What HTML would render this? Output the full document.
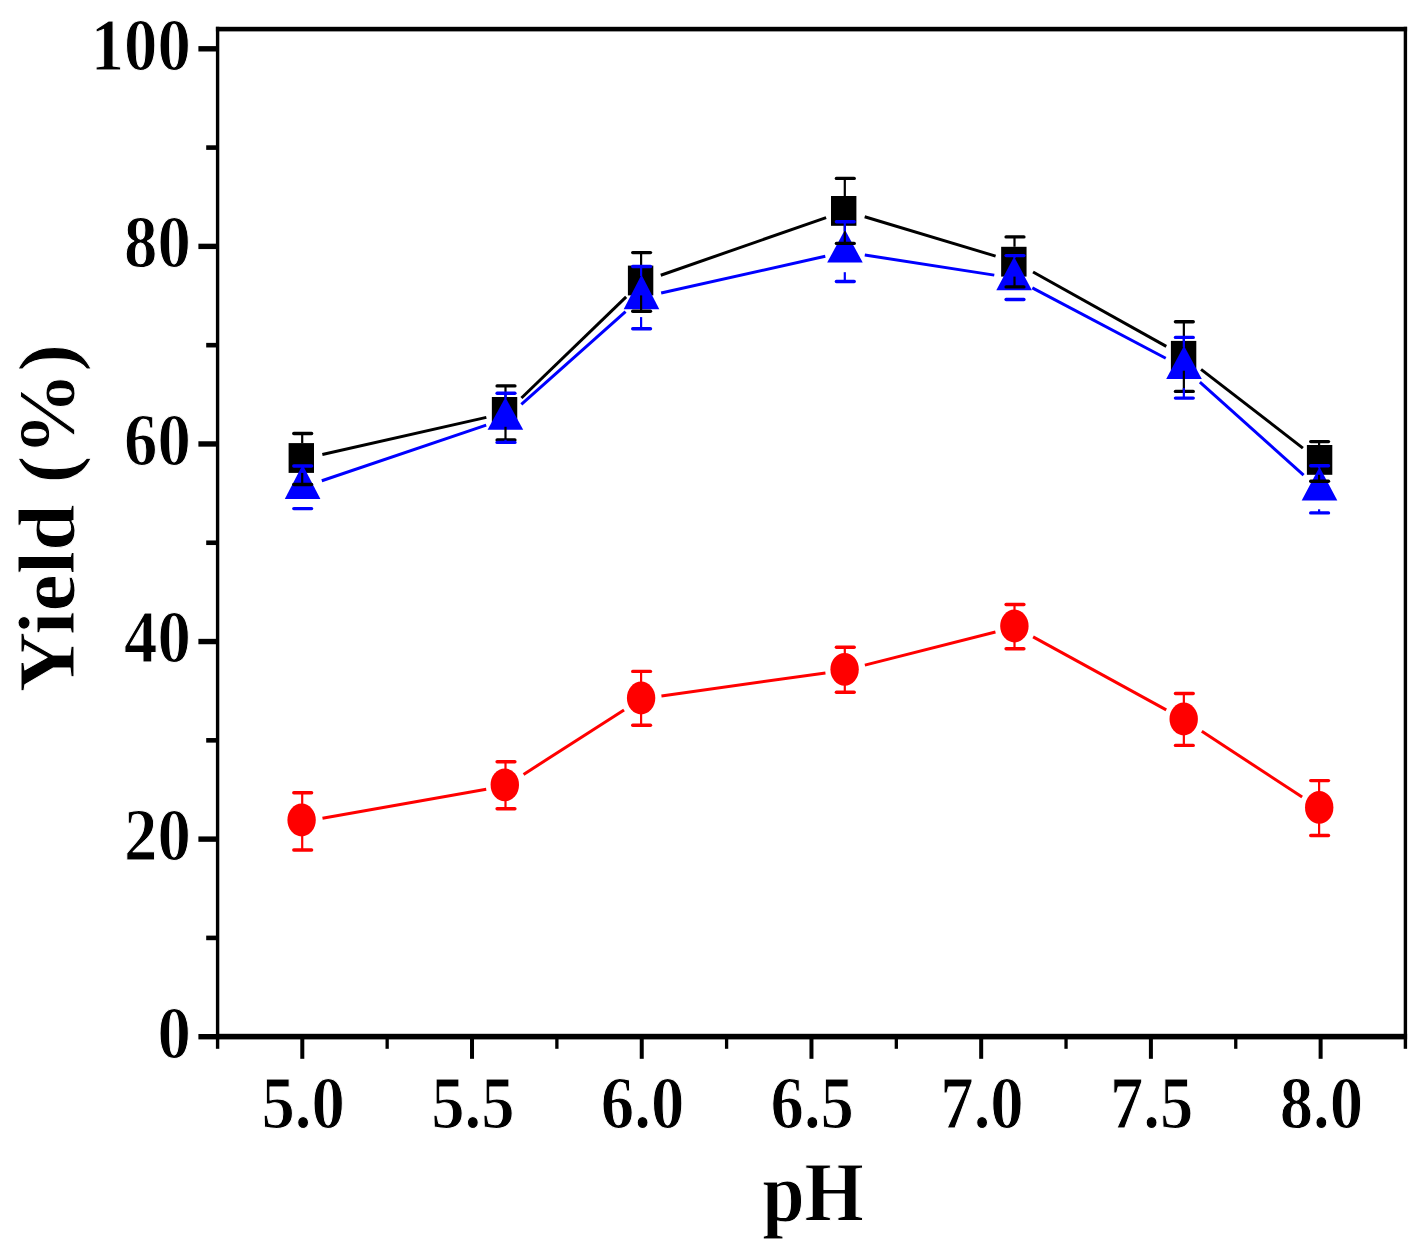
<!DOCTYPE html>
<html lang="en">
<head>
<meta charset="utf-8">
<title>Yield vs pH</title>
<style>
html,body{margin:0;padding:0;background:#fff;}
body{width:1418px;height:1249px;overflow:hidden;}
svg{display:block;}
text{font-family:"Liberation Serif","Times New Roman",Times,serif;font-weight:bold;fill:#000;stroke:#fff;stroke-width:1px;stroke-linejoin:round;}
</style>
</head>
<body>
<svg width="1418" height="1249" viewBox="0 0 1418 1249">
<rect width="1418" height="1249" fill="#fff"/>

<!-- series lines and symbols -->
<g stroke="#000" stroke-width="3" fill="none"><line x1="322.34" y1="454.55" x2="486.36" y2="417.35"/><line x1="521.45" y1="397.98" x2="626.15" y2="296.82"/><line x1="660.77" y1="275.22" x2="826.13" y2="217.58"/><line x1="864.68" y1="216.72" x2="995.62" y2="256.08"/><line x1="1033.06" y1="271.99" x2="1166.29" y2="346.41"/><line x1="1201.06" y1="369.41" x2="1302.89" y2="448.09"/></g>
<g fill="#000"><rect x="288.6" y="443.1" width="25.4" height="29.8"/><rect x="491.85" y="397" width="25.4" height="29.8"/><rect x="627.9" y="265.6" width="25.4" height="29.8"/><rect x="831" y="196" width="25.4" height="29.8"/><rect x="1001.15" y="246.8" width="25.4" height="29.8"/><rect x="1170.9" y="340.9" width="25.4" height="29.8"/><rect x="1306.9" y="445" width="25.4" height="29.8"/></g>
<g stroke="#f00" stroke-width="3" fill="none"><line x1="322.48" y1="818.24" x2="486.22" y2="789.16"/><line x1="523.56" y1="774.39" x2="624.04" y2="709.96"/><line x1="661.46" y1="695.91" x2="825.44" y2="672.89"/><line x1="864.85" y1="665.14" x2="995.45" y2="631.96"/><line x1="1033.12" y1="636.94" x2="1166.23" y2="709.91"/><line x1="1201.82" y1="731.29" x2="1302.13" y2="797.01"/></g>
<g fill="#f00"><rect x="292.1" y="791" width="21.2" height="3.4" rx="1.7"/><rect x="292.1" y="848.3" width="21.2" height="3.4" rx="1.7"/><rect x="301.1" y="792.7" width="2.2" height="57.3"/><ellipse cx="301.6" cy="820" rx="14.2" ry="16.4"/><rect x="495.4" y="760" width="21.2" height="3.4" rx="1.7"/><rect x="495.4" y="807.1" width="21.2" height="3.4" rx="1.7"/><rect x="504.4" y="761.7" width="2.2" height="47.1"/><ellipse cx="504.8" cy="784.9" rx="14.2" ry="16.4"/><rect x="631" y="669.7" width="21.2" height="3.4" rx="1.7"/><rect x="631" y="723.5" width="21.2" height="3.4" rx="1.7"/><rect x="640" y="671.4" width="2.2" height="53.8"/><ellipse cx="641.1" cy="698" rx="14.2" ry="16.4"/><rect x="834.7" y="645.5" width="21.2" height="3.4" rx="1.7"/><rect x="834.7" y="690.5" width="21.2" height="3.4" rx="1.7"/><rect x="843.7" y="647.2" width="2.2" height="45"/><ellipse cx="844.6" cy="669.3" rx="14.2" ry="16.4"/><rect x="1004.4" y="602.8" width="21.2" height="3.4" rx="1.7"/><rect x="1004.4" y="647" width="21.2" height="3.4" rx="1.7"/><rect x="1013.4" y="604.5" width="2.2" height="44.2"/><ellipse cx="1014.4" cy="626" rx="14.2" ry="16.4"/><rect x="1173.75" y="691.8" width="21.2" height="3.4" rx="1.7"/><rect x="1173.75" y="743.7" width="21.2" height="3.4" rx="1.7"/><rect x="1182.75" y="693.5" width="2.2" height="51.9"/><ellipse cx="1183.7" cy="719" rx="14.2" ry="16.4"/><rect x="1309" y="778.9" width="21.2" height="3.4" rx="1.7"/><rect x="1309" y="833.8" width="21.2" height="3.4" rx="1.7"/><rect x="1318" y="780.6" width="2.2" height="54.9"/><ellipse cx="1319.2" cy="807.4" rx="14.2" ry="16.4"/></g>
<g stroke="#00f" stroke-width="3" fill="none"><line x1="321.82" y1="480.74" x2="486.18" y2="425.11"/><line x1="521.34" y1="404.41" x2="625.56" y2="311.59"/><line x1="661.15" y1="293.01" x2="825.3" y2="256.29"/><line x1="864.78" y1="254.98" x2="994.27" y2="275.12"/><line x1="1032.34" y1="287.83" x2="1165.76" y2="358.27"/><line x1="1199.9" y1="382.15" x2="1303.6" y2="475.05"/></g>
<g fill="#00f"><polygon points="302.6,464.8 320.4,498.9 284.8,498.9"/><polygon points="505.4,397.3 523.2,429.7 487.6,429.7"/><polygon points="641.5,274.7 659.3,309.3 623.7,309.3"/><polygon points="844.95,229.8 862.75,262.6 827.15,262.6"/><polygon points="1014.1,256.7 1031.9,290.2 996.3,290.2"/><polygon points="1184,345.7 1201.8,378.9 1166.2,378.9"/><polygon points="1319.5,466.9 1337.3,500.4 1301.7,500.4"/></g>
<g fill="#000"><rect x="292.1" y="431.8" width="21.2" height="3.4" rx="1.7"/><rect x="292.1" y="482.8" width="21.2" height="3.4" rx="1.7"/><rect x="301.1" y="433.5" width="2.2" height="9.6"/><rect x="301.1" y="472.9" width="2.2" height="11.6"/><rect x="495.4" y="384.2" width="21.2" height="3.4" rx="1.7"/><rect x="495.4" y="438.2" width="21.2" height="3.4" rx="1.7"/><rect x="504.4" y="385.9" width="2.2" height="11.1"/><rect x="504.4" y="426.8" width="2.2" height="13.1"/><rect x="631" y="250.9" width="21.2" height="3.4" rx="1.7"/><rect x="631" y="309.5" width="21.2" height="3.4" rx="1.7"/><rect x="640" y="252.6" width="2.2" height="13"/><rect x="640" y="295.4" width="2.2" height="15.8"/><rect x="834.7" y="176.7" width="21.2" height="3.4" rx="1.7"/><rect x="834.7" y="241.7" width="21.2" height="3.4" rx="1.7"/><rect x="843.7" y="178.4" width="2.2" height="17.6"/><rect x="843.7" y="225.8" width="2.2" height="17.6"/><rect x="1004.4" y="235.2" width="21.2" height="3.4" rx="1.7"/><rect x="1004.4" y="285.2" width="21.2" height="3.4" rx="1.7"/><rect x="1013.4" y="236.9" width="2.2" height="9.9"/><rect x="1013.4" y="276.6" width="2.2" height="10.3"/><rect x="1173.75" y="320" width="21.2" height="3.4" rx="1.7"/><rect x="1173.75" y="389.7" width="21.2" height="3.4" rx="1.7"/><rect x="1182.75" y="321.7" width="2.2" height="19.2"/><rect x="1182.75" y="370.7" width="2.2" height="20.7"/><rect x="1309" y="439.9" width="21.2" height="3.4" rx="1.7"/><rect x="1309" y="479.5" width="21.2" height="3.4" rx="1.7"/><rect x="1318" y="441.6" width="2.2" height="3.4"/><rect x="1318" y="474.8" width="2.2" height="6.4"/></g>
<g fill="#00f"><rect x="292.1" y="464.3" width="21.2" height="3.4" rx="1.7"/><rect x="292.1" y="506.9" width="21.2" height="3.4" rx="1.7"/><rect x="301.1" y="466" width="2.2" height="0.3"/><rect x="301.1" y="507.2" width="2.2" height="1.4"/><rect x="495.4" y="391.6" width="21.2" height="3.4" rx="1.7"/><rect x="495.4" y="440.7" width="21.2" height="3.4" rx="1.7"/><rect x="504.4" y="393.3" width="2.2" height="5.5"/><rect x="504.4" y="439.7" width="2.2" height="2.7"/><rect x="631" y="264.8" width="21.2" height="3.4" rx="1.7"/><rect x="631" y="327" width="21.2" height="3.4" rx="1.7"/><rect x="640" y="266.5" width="2.2" height="9.7"/><rect x="640" y="317.1" width="2.2" height="11.6"/><rect x="834.7" y="220" width="21.2" height="3.4" rx="1.7"/><rect x="834.7" y="279.8" width="21.2" height="3.4" rx="1.7"/><rect x="843.7" y="221.7" width="2.2" height="9.6"/><rect x="843.7" y="272.2" width="2.2" height="9.3"/><rect x="1004.4" y="253.9" width="21.2" height="3.4" rx="1.7"/><rect x="1004.4" y="297.8" width="21.2" height="3.4" rx="1.7"/><rect x="1013.4" y="255.6" width="2.2" height="2.6"/><rect x="1013.4" y="299.1" width="2.2" height="0.4"/><rect x="1173.75" y="335.7" width="21.2" height="3.4" rx="1.7"/><rect x="1173.75" y="396.4" width="21.2" height="3.4" rx="1.7"/><rect x="1182.75" y="337.4" width="2.2" height="9.8"/><rect x="1182.75" y="388.1" width="2.2" height="10"/><rect x="1309" y="464.1" width="21.2" height="3.4" rx="1.7"/><rect x="1309" y="511.2" width="21.2" height="3.4" rx="1.7"/><rect x="1318" y="465.8" width="2.2" height="2.6"/><rect x="1318" y="509.3" width="2.2" height="3.6"/></g>
<!-- axes -->
<g fill="#000"><rect x="215.9" y="26.8" width="3.4" height="1022"/><rect x="1403.7" y="26.8" width="3.4" height="1022"/><rect x="215.9" y="26.8" width="1191.2" height="4.6"/><rect x="215.9" y="1033.8" width="1191.2" height="5.6"/><rect x="198.4" y="46.1" width="19.2" height="5.4"/><rect x="198.4" y="243.68" width="19.2" height="5.4"/><rect x="198.4" y="441.26" width="19.2" height="5.4"/><rect x="198.4" y="638.84" width="19.2" height="5.4"/><rect x="198.4" y="836.42" width="19.2" height="5.4"/><rect x="198.4" y="1034" width="19.2" height="5.4"/><rect x="206.2" y="145.29" width="11.4" height="4.6"/><rect x="206.2" y="342.87" width="11.4" height="4.6"/><rect x="206.2" y="540.45" width="11.4" height="4.6"/><rect x="206.2" y="738.03" width="11.4" height="4.6"/><rect x="206.2" y="935.61" width="11.4" height="4.6"/><rect x="300.3" y="1036.6" width="4" height="22.2"/><rect x="470.02" y="1036.6" width="4" height="22.2"/><rect x="639.74" y="1036.6" width="4" height="22.2"/><rect x="809.46" y="1036.6" width="4" height="22.2"/><rect x="979.18" y="1036.6" width="4" height="22.2"/><rect x="1148.9" y="1036.6" width="4" height="22.2"/><rect x="1318.62" y="1036.6" width="4" height="22.2"/><rect x="385.51" y="1036.6" width="3.3" height="12.2"/><rect x="555.23" y="1036.6" width="3.3" height="12.2"/><rect x="724.95" y="1036.6" width="3.3" height="12.2"/><rect x="894.67" y="1036.6" width="3.3" height="12.2"/><rect x="1064.39" y="1036.6" width="3.3" height="12.2"/><rect x="1234.11" y="1036.6" width="3.3" height="12.2"/></g>
<!-- labels -->
<text transform="translate(190.8,69.7) scale(0.92,1.03)" font-size="72.5" text-anchor="end">100</text>
<text transform="translate(190.8,267.28) scale(0.92,1.03)" font-size="72.5" text-anchor="end">80</text>
<text transform="translate(190.8,464.86) scale(0.92,1.03)" font-size="72.5" text-anchor="end">60</text>
<text transform="translate(190.8,662.44) scale(0.92,1.03)" font-size="72.5" text-anchor="end">40</text>
<text transform="translate(190.8,860.02) scale(0.92,1.03)" font-size="72.5" text-anchor="end">20</text>
<text transform="translate(190.8,1057.6) scale(0.92,1.03)" font-size="72.5" text-anchor="end">0</text>
<text transform="translate(303.1,1128.3) scale(0.92,1.03)" font-size="72.5" text-anchor="middle">5.0</text>
<text transform="translate(472.82,1128.3) scale(0.92,1.03)" font-size="72.5" text-anchor="middle">5.5</text>
<text transform="translate(642.54,1128.3) scale(0.92,1.03)" font-size="72.5" text-anchor="middle">6.0</text>
<text transform="translate(812.26,1128.3) scale(0.92,1.03)" font-size="72.5" text-anchor="middle">6.5</text>
<text transform="translate(981.98,1128.3) scale(0.92,1.03)" font-size="72.5" text-anchor="middle">7.0</text>
<text transform="translate(1151.7,1128.3) scale(0.92,1.03)" font-size="72.5" text-anchor="middle">7.5</text>
<text transform="translate(1321.42,1128.3) scale(0.92,1.03)" font-size="72.5" text-anchor="middle">8.0</text>
<text transform="translate(813,1220.6) scale(0.93,1.025)" font-size="82" text-anchor="middle">pH</text>
<text transform="translate(73.7,518.1) rotate(-90) scale(1,0.955)" font-size="83.8" text-anchor="middle">Yield (%)</text>
</svg>
</body>
</html>
